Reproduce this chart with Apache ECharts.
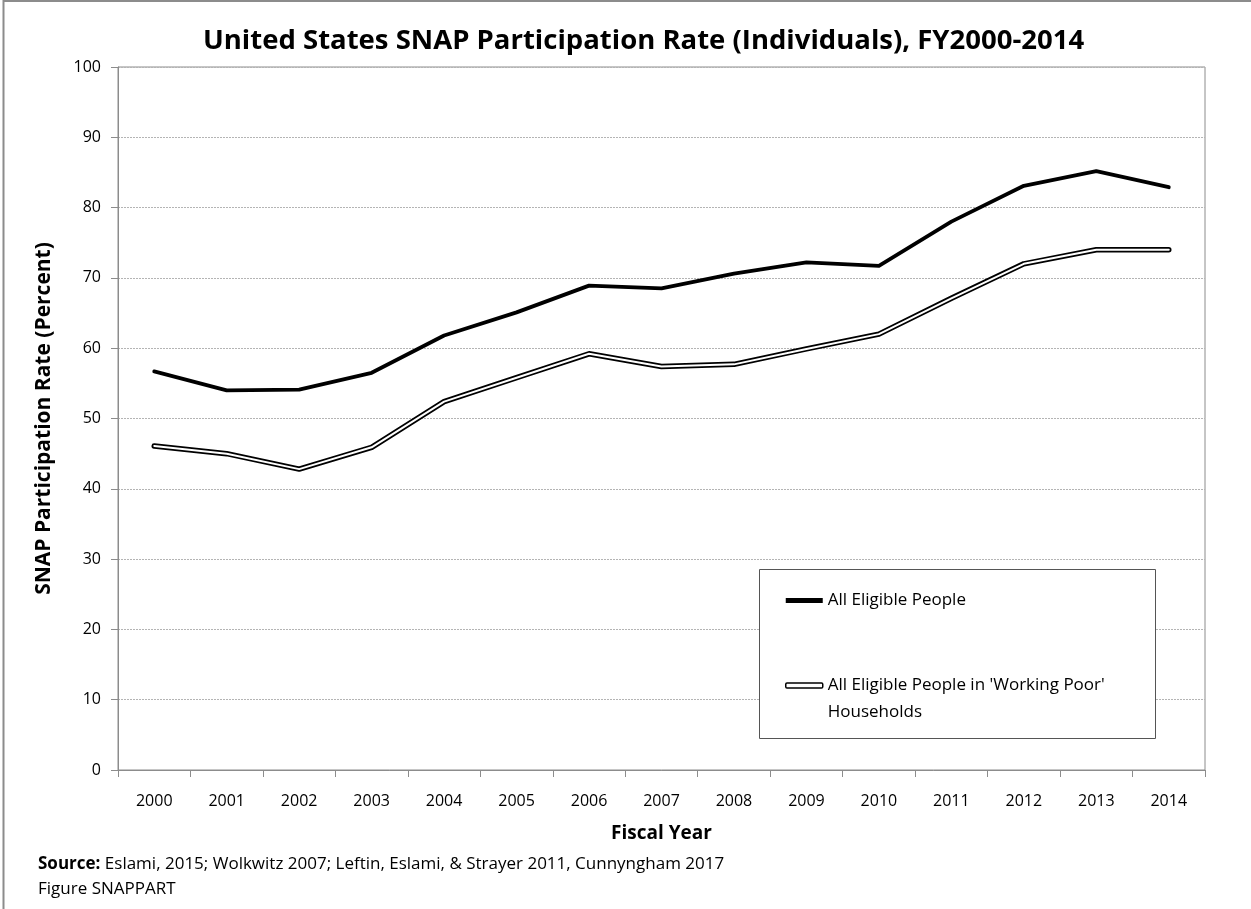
<!DOCTYPE html>
<html>
<head>
<meta charset="utf-8">
<script src="https://cdn.jsdelivr.net/npm/echarts@6/dist/echarts.min.js"></script>
<style>
  html, body { margin: 0; padding: 0; background: #fff; }
  #chart { width: 1251px; height: 909px; }
</style>
</head>
<body>
<div id="chart"></div>
<script>
// data
var years = ['2000','2001','2002','2003','2004','2005','2006','2007','2008','2009','2010','2011','2012','2013','2014'];
var allEligible = [56.7, 54.0, 54.1, 56.5, 61.8, 65.1, 68.9, 68.5, 70.6, 72.2, 71.7, 78.0, 83.1, 85.2, 82.9];
var workingPoor = [46.1, 45.0, 42.8, 45.9, 52.4, 55.8, 59.2, 57.4, 57.7, 59.9, 62.0, 67.1, 72.0, 74.0, 74.0];
var yTicks = [0, 10, 20, 30, 40, 50, 60, 70, 80, 90, 100];

var NAME_ALL = 'All Eligible People';
var NAME_WP = "All Eligible People in 'Working Poor'\nHouseholds";

var FONT = '"Open Sans", "Noto Sans", sans-serif';

var chart = echarts.init(document.getElementById('chart'));

var option = {
    animation: false,
    backgroundColor: '#fff',
    title: {
        text: 'United States SNAP Participation Rate (Individuals), FY2000-2014',
        left: 198,
        top: 22,
        textStyle: { fontFamily: FONT, fontSize: 27.5, fontWeight: 'bold', color: '#000' }
    },
    grid: {
        left: 118, right: 46, top: 67, bottom: 139,
        show: true, borderColor: '#8c8c8c', borderWidth: 1, backgroundColor: 'transparent'
    },
    legend: {
        orient: 'vertical',
        left: 780,
        top: 582,
        itemWidth: 37,
        itemHeight: 5,
        itemGap: 31,
        z: 6,
        textStyle: { fontFamily: FONT, fontSize: 17, color: '#000', lineHeight: 27 },
        // leading blank line keeps the icon level with the first text line
        formatter: function (name) {
            return name === NAME_WP ? '\n' + name : name;
        },
        data: [
            { name: NAME_ALL, icon: 'rect', itemStyle: { color: '#000' } },
            {
                name: NAME_WP,
                icon: 'roundRect',
                itemStyle: { color: '#fff', borderColor: '#000', borderWidth: 1.5 }
            }
        ]
    },
    xAxis: {
        type: 'category',
        data: years,
        boundaryGap: true,
        name: 'Fiscal Year',
        nameLocation: 'middle',
        nameGap: 54,
        nameTextStyle: { fontFamily: FONT, fontSize: 19, fontWeight: 'bold', color: '#000' },
        axisLine: { lineStyle: { color: '#8c8c8c', width: 1 } },
        axisTick: { show: true, interval: 0, length: 7, lineStyle: { color: '#8c8c8c' } },
        axisLabel: { interval: 0, margin: 23, fontFamily: FONT, fontSize: 16, color: '#000' },
        splitLine: { show: false }
    },
    yAxis: {
        type: 'value',
        min: yTicks[0],
        max: yTicks[yTicks.length - 1],
        interval: 10,
        name: 'SNAP Participation Rate (Percent)',
        nameLocation: 'middle',
        nameGap: 63,
        nameTextStyle: { fontFamily: FONT, fontSize: 21, fontWeight: 'bold', color: '#000' },
        axisLine: { show: true, lineStyle: { color: '#8c8c8c', width: 1 } },
        axisTick: { show: true, length: 7, lineStyle: { color: '#8c8c8c' } },
        axisLabel: { margin: 17, fontFamily: FONT, fontSize: 16, color: '#000' },
        splitLine: { show: true, lineStyle: { color: '#b4b4b4', type: [2, 1], width: 1 } }
    },
    series: [
        {
            name: NAME_ALL,
            type: 'line',
            data: allEligible,
            symbol: 'none',
            lineStyle: { color: '#000', width: 3.8, cap: 'round', join: 'round' },
            itemStyle: { color: '#000' },
            z: 3
        },
        {
            name: NAME_WP,
            type: 'line',
            data: workingPoor,
            symbol: 'none',
            lineStyle: { color: '#000', width: 5.5, cap: 'round', join: 'round' },
            itemStyle: { color: '#fff' },
            z: 3
        },
        {
            // white core makes the double-line look
            name: 'workingPoorCore',
            type: 'line',
            data: workingPoor,
            symbol: 'none',
            silent: true,
            lineStyle: { color: '#fff', width: 2, cap: 'round', join: 'round' },
            z: 4
        }
    ],
    graphic: [
        { type: 'rect', left: 759, top: 569, z: 2, shape: { width: 396, height: 169 },
          style: { fill: '#fff', stroke: '#555', lineWidth: 1 } },
        { type: 'line', shape: { x1: 3.5, y1: 0, x2: 3.5, y2: 909 }, style: { stroke: '#8c8c8c', lineWidth: 2 } },
        { type: 'line', shape: { x1: 3, y1: 1, x2: 1251, y2: 1 }, style: { stroke: '#8c8c8c', lineWidth: 2 } },
        {
            type: 'text', left: 38, top: 856,
            style: {
                text: '{b|Source:} Eslami, 2015; Wolkwitz 2007; Leftin, Eslami, & Strayer 2011, Cunnyngham 2017',
                font: '17px ' + FONT, fill: '#000',
                rich: { b: { fontFamily: FONT, fontSize: 17, fontWeight: 'bold', fill: '#000' } }
            }
        },
        {
            type: 'text', left: 38, top: 881,
            style: { text: 'Figure SNAPPART', font: '17px ' + FONT, fill: '#000' }
        }
    ]
};

chart.setOption(option);
</script>
</body>
</html>
